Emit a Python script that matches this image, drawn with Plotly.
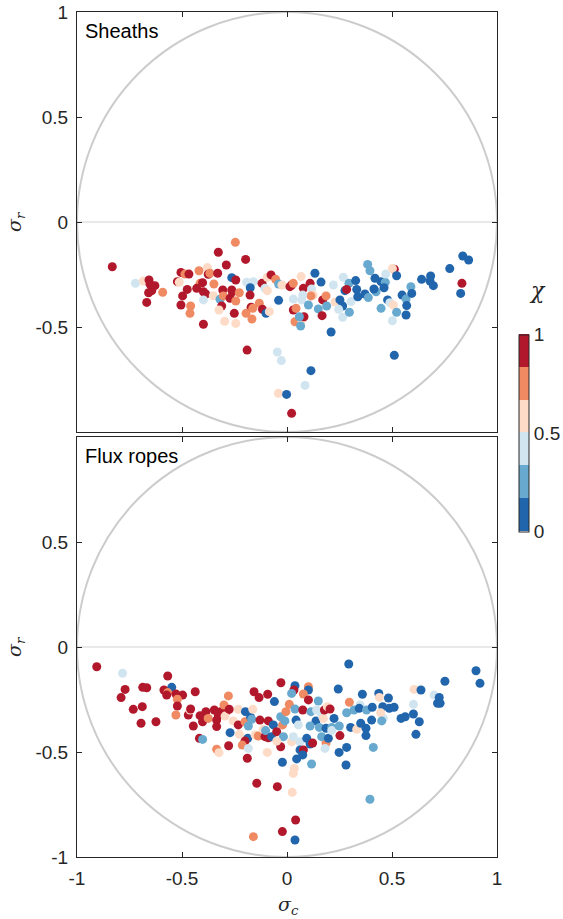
import plotly.graph_objects as go

# chi category values
R, O, P, L, M, B = 0.92, 0.75, 0.58, 0.42, 0.25, 0.08

sheath_pts = [
    (-0.832,-0.213,R),(-0.722,-0.292,L),(-0.684,-0.281,P),(-0.657,-0.276,R),(-0.652,-0.297,R),
    (-0.629,-0.303,R),(-0.644,-0.327,R),(-0.659,-0.337,R),(-0.668,-0.383,R),(-0.592,-0.335,O),
    (-0.505,-0.240,R),(-0.486,-0.248,O),(-0.467,-0.248,R),(-0.522,-0.284,R),(-0.513,-0.287,P),
    (-0.475,-0.321,R),(-0.497,-0.352,R),(-0.505,-0.395,R),(-0.459,-0.400,O),(-0.462,-0.435,O),
    (-0.419,-0.232,O),(-0.379,-0.217,P),(-0.375,-0.249,R),(-0.367,-0.244,O),(-0.330,-0.244,R),
    (-0.327,-0.144,R),(-0.246,-0.097,O),(-0.289,-0.205,R),(-0.197,-0.178,R),(-0.414,-0.292,O),
    (-0.402,-0.289,R),(-0.430,-0.316,R),(-0.398,-0.332,R),(-0.387,-0.343,R),(-0.398,-0.371,L),
    (-0.348,-0.295,O),(-0.351,-0.351,P),(-0.319,-0.368,M),(-0.306,-0.324,R),(-0.303,-0.352,O),
    (-0.311,-0.400,R),(-0.324,-0.419,P),(-0.263,-0.265,B),(-0.244,-0.276,R),(-0.263,-0.324,R),
    (-0.260,-0.332,R),(-0.271,-0.363,R),(-0.244,-0.376,O),(-0.227,-0.337,O),(-0.251,-0.435,R),
    (-0.297,-0.473,P),(-0.244,-0.483,P),(-0.398,-0.487,R),(-0.192,-0.287,L),(-0.160,-0.284,L),
    (-0.175,-0.313,B),(-0.176,-0.348,R),(-0.171,-0.406,R),(-0.163,-0.411,O),(-0.132,-0.387,O),
    (-0.195,-0.435,O),(-0.167,-0.462,O),(-0.117,-0.416,R),(-0.100,-0.435,B),(-0.084,-0.427,P),
    (-0.119,-0.292,R),(-0.094,-0.263,P),(-0.076,-0.252,R),(-0.105,-0.316,L),(-0.094,-0.327,P),
    (-0.054,-0.273,O),(-0.040,-0.295,M),(-0.024,-0.300,P),(-0.040,-0.373,B),(0.014,-0.308,R),
    (-0.190,-0.610,R),(-0.046,-0.619,L),(-0.027,-0.660,L),(-0.041,-0.816,P),(-0.002,-0.821,B),
    (0.022,-0.911,R),
    (0.022,-0.300,R),(0.030,-0.292,O),(0.067,-0.260,P),(0.078,-0.316,R),(0.110,-0.292,R),
    (0.117,-0.319,L),(0.125,-0.348,P),(0.114,-0.352,O),(0.075,-0.348,L),(0.030,-0.367,L),
    (0.070,-0.371,L),(0.030,-0.419,R),(0.043,-0.411,O),(0.038,-0.475,O),(0.070,-0.467,P),
    (0.065,-0.495,M),(0.081,-0.451,R),(0.059,-0.451,M),(0.102,-0.395,M),(0.133,-0.244,B),
    (0.162,-0.286,B),(0.149,-0.414,M),(0.170,-0.371,R),(0.186,-0.352,O),(0.189,-0.400,M),
    (0.167,-0.446,R),(0.221,-0.300,L),(0.229,-0.381,P),(0.252,-0.371,B),(0.268,-0.263,L),
    (0.265,-0.400,B),(0.246,-0.416,L),(0.265,-0.454,L),(0.295,-0.292,M),(0.276,-0.327,B),
    (0.284,-0.321,R),(0.305,-0.379,L),(0.297,-0.430,M),(0.327,-0.279,B),(0.332,-0.321,B),
    (0.337,-0.356,B),(0.371,-0.343,B),(0.387,-0.360,M),(0.384,-0.202,M),(0.395,-0.232,M),
    (0.419,-0.268,B),(0.424,-0.332,M),(0.414,-0.319,B),(0.448,-0.284,B),(0.468,-0.287,M),
    (0.462,-0.313,B),(0.470,-0.248,L),(0.448,-0.411,M),(0.479,-0.371,B),(0.490,-0.384,L),
    (0.511,-0.225,R),(0.502,-0.222,P),(0.522,-0.256,B),(0.506,-0.395,P),(0.502,-0.470,L),
    (0.522,-0.430,M),(0.548,-0.348,B),(0.567,-0.367,M),(0.590,-0.308,M),(0.594,-0.340,B),
    (0.570,-0.398,B),(0.567,-0.443,B),(0.210,-0.524,B),(0.511,-0.635,B),(0.641,-0.273,B),
    (0.684,-0.257,B),(0.681,-0.281,B),(0.697,-0.303,B),(0.775,-0.222,B),(0.837,-0.162,B),
    (0.865,-0.181,B),(0.833,-0.292,R),(0.827,-0.340,B),(0.114,-0.708,B),(0.086,-0.778,L),
]

rope_pts = [
    (-0.906,-0.094,R),(-0.783,-0.125,L),(-0.771,-0.202,R),(-0.790,-0.241,R),(-0.732,-0.297,R),
    (-0.689,-0.284,R),(-0.695,-0.363,R),(-0.624,-0.356,R),(-0.687,-0.192,R),(-0.668,-0.194,R),
    (-0.568,-0.138,R),(-0.549,-0.192,B),(-0.586,-0.205,R),(-0.568,-0.217,O),(-0.573,-0.229,R),
    (-0.529,-0.224,R),(-0.497,-0.229,R),(-0.522,-0.249,O),(-0.522,-0.281,R),(-0.529,-0.324,O),
    (-0.437,-0.213,R),(-0.470,-0.324,R),(-0.462,-0.300,P),(-0.459,-0.295,R),(-0.446,-0.376,R),
    (-0.414,-0.327,R),(-0.402,-0.356,R),(-0.386,-0.308,R),(-0.375,-0.340,O),(-0.346,-0.300,R),
    (-0.335,-0.348,R),(-0.327,-0.324,R),(-0.335,-0.379,R),(-0.316,-0.308,R),(-0.290,-0.308,R),
    (-0.279,-0.233,O),(-0.300,-0.276,O),(-0.295,-0.329,P),(-0.275,-0.297,R),(-0.232,-0.297,P),
    (-0.417,-0.435,R),(-0.402,-0.440,M),(-0.335,-0.487,O),(-0.324,-0.503,P),(-0.271,-0.408,B),
    (-0.278,-0.470,R),(-0.256,-0.352,P),(-0.227,-0.416,P),(-0.232,-0.371,R),(-0.198,-0.308,B),
    (-0.200,-0.356,O),(-0.184,-0.376,M),(-0.173,-0.335,B),(-0.163,-0.297,P),(-0.168,-0.344,M),
    (-0.157,-0.213,R),(-0.133,-0.241,R),(-0.187,-0.435,B),(-0.200,-0.448,R),(-0.213,-0.467,O),
    (-0.184,-0.483,L),(-0.189,-0.530,R),(-0.152,-0.419,P),(-0.137,-0.424,O),(-0.129,-0.348,R),
    (-0.113,-0.392,P),(-0.092,-0.225,R),(-0.060,-0.260,B),(-0.089,-0.352,R),(-0.065,-0.371,B),
    (-0.105,-0.427,R),(-0.089,-0.432,R),(-0.102,-0.398,M),(-0.073,-0.427,B),(-0.049,-0.403,R),
    (-0.030,-0.332,M),(-0.029,-0.170,R),(-0.021,-0.371,O),(-0.010,-0.352,M),(-0.017,-0.427,M),
    (-0.030,-0.475,R),(-0.049,-0.448,P),(-0.094,-0.502,P),(-0.022,-0.549,B),(-0.144,-0.649,R),
    (-0.046,-0.665,R),(-0.022,-0.879,R),(-0.160,-0.903,O),
    (0.038,-0.184,B),(0.033,-0.205,R),(0.022,-0.221,M),(0.102,-0.189,O),(0.102,-0.205,B),
    (0.078,-0.224,O),(0.102,-0.252,R),(0.011,-0.273,O),(-0.005,-0.308,O),(0.038,-0.295,M),
    (0.043,-0.348,B),(0.075,-0.300,R),(0.054,-0.371,L),(0.022,-0.451,P),(0.030,-0.427,L),
    (0.062,-0.451,L),(0.062,-0.490,B),(0.078,-0.490,R),(0.075,-0.514,B),(0.046,-0.533,B),
    (0.094,-0.435,B),(0.110,-0.462,B),(0.122,-0.457,R),(0.117,-0.557,M),(0.114,-0.308,M),
    (0.149,-0.257,M),(0.141,-0.300,L),(0.138,-0.352,B),(0.154,-0.383,M),(0.110,-0.376,M),
    (0.165,-0.324,L),(0.173,-0.340,P),(0.178,-0.300,R),(0.192,-0.284,P),(0.205,-0.295,R),
    (0.186,-0.387,B),(0.186,-0.457,O),(0.181,-0.483,L),(0.165,-0.427,M),(0.197,-0.435,B),
    (0.224,-0.340,B),(0.213,-0.383,M),(0.213,-0.398,L),(0.249,-0.376,M),(0.252,-0.422,R),
    (0.244,-0.200,B),(0.294,-0.081,B),(0.297,-0.263,O),(0.284,-0.313,M),(0.303,-0.383,B),
    (0.319,-0.300,M),(0.332,-0.392,P),(0.348,-0.276,L),(0.344,-0.292,B),(0.359,-0.225,B),
    (0.351,-0.363,B),(0.376,-0.387,B),(0.376,-0.422,B),(0.379,-0.300,M),(0.406,-0.287,B),
    (0.403,-0.348,B),(0.437,-0.221,B),(0.440,-0.240,P),(0.459,-0.340,L),(0.456,-0.284,B),
    (0.446,-0.313,P),(0.451,-0.352,M),(0.483,-0.243,B),(0.487,-0.292,B),(0.510,-0.287,B),
    (0.543,-0.340,B),(0.563,-0.332,B),(0.602,-0.319,B),(0.630,-0.356,B),(0.614,-0.416,B),
    (0.605,-0.202,P),(0.638,-0.205,B),(0.602,-0.273,L),(0.700,-0.229,L),(0.725,-0.240,B),
    (0.717,-0.268,B),(0.729,-0.268,B),(0.752,-0.163,B),(0.900,-0.113,B),(0.919,-0.173,B),
    (0.284,-0.478,B),(0.248,-0.502,B),(0.281,-0.562,B),(0.411,-0.478,M),(0.395,-0.725,M),
    (0.035,-0.578,P),(0.030,-0.602,P),(0.025,-0.692,P),(0.041,-0.824,R),(0.038,-0.919,B),
]

sheath_sc = [p[0] for p in sheath_pts]
sheath_sr = [p[1] for p in sheath_pts]
sheath_chi = [p[2] for p in sheath_pts]
rope_sc = [p[0] for p in rope_pts]
rope_sr = [p[1] for p in rope_pts]
rope_chi = [p[2] for p in rope_pts]

axis_ticks = [-1, -0.5, 0, 0.5, 1]
x_tick_text = ["-1", "-0.5", "0", "0.5", "1"]
top_y_text = ["", "-0.5", "0", "0.5", "1"]
bot_y_text = ["-1", "-0.5", "0", "0.5", ""]
cbar_ticks = [0, 0.5, 1]
cbar_text = ["0", "0.5", "1"]

colors = ['#2166ac', '#67a9cf', '#d1e5f0', '#fddbc7', '#ef8a62', '#b2182b']
cscale = []
for i, c in enumerate(colors):
    cscale.append([i / 6, c])
    cscale.append([(i + 1) / 6, c])

FONT = "Liberation Sans, Arial, sans-serif"
SERIF = "DejaVu Serif, serif"
AX = "#262626"
W, H = 563, 919
ML, MR, MT, MB = 77, 66, 12, 62
PW, PH = W - ML - MR, H - MT - MB


def px_to_dom(px, py):
    return (px - ML) / PW, (H - MB - py) / PH


fig = go.Figure()
fig.add_trace(go.Scatter(
    x=sheath_sc, y=sheath_sr, mode="markers", xaxis="x", yaxis="y",
    marker=dict(size=9, color=sheath_chi, colorscale=cscale, cmin=0, cmax=1,
                line=dict(width=0), showscale=False),
    showlegend=False, hoverinfo="skip"))
cbx, cby = px_to_dom(519, 433)
fig.add_trace(go.Scatter(
    x=rope_sc, y=rope_sr, mode="markers", xaxis="x2", yaxis="y2",
    marker=dict(size=9, color=rope_chi, colorscale=cscale, cmin=0, cmax=1,
                line=dict(width=0), showscale=True,
                colorbar=dict(x=cbx, xanchor="left", xpad=0, ypad=0,
                              y=cby, yanchor="middle", len=197, lenmode="pixels",
                              thickness=10, outlinewidth=1, outlinecolor=AX,
                              tickvals=cbar_ticks, ticktext=cbar_text,
                              ticks="", tickfont=dict(family=FONT, size=19, color=AX))),
    showlegend=False, hoverinfo="skip"))

top_dom = [(H - MB - 432) / PH, 1.0]
bot_dom = [0.0, 420 / PH]

common_ax = dict(range=[-1, 1], tickvals=axis_ticks, ticks="inside", ticklen=5,
                 tickcolor=AX, showline=True, linecolor=AX, linewidth=1,
                 mirror="ticks", showgrid=False, zeroline=False,
                 tickfont=dict(family=FONT, size=19, color=AX))

fig.update_layout(
    width=W, height=H,
    margin=dict(l=ML, r=MR, t=MT, b=MB, autoexpand=False),
    paper_bgcolor="white", plot_bgcolor="white",
    xaxis=dict(**common_ax, domain=[0, 1], anchor="y", showticklabels=False, matches="x2"),
    yaxis=dict(**common_ax, domain=top_dom, anchor="x", ticktext=top_y_text, ticklabelstandoff=4),
    xaxis2=dict(**common_ax, domain=[0, 1], anchor="y2", ticktext=x_tick_text, ticklabelstandoff=4),
    yaxis2=dict(**common_ax, domain=bot_dom, anchor="x2", ticktext=bot_y_text, ticklabelstandoff=4),
)

for xr, yr in (("x", "y"), ("x2", "y2")):
    fig.add_shape(type="circle", xref=xr, yref=yr, x0=-1, y0=-1, x1=1, y1=1,
                  line=dict(color="#cccccc", width=2), layer="below")
    fig.add_shape(type="line", xref=xr, yref=yr, x0=-1, y0=0, x1=1, y1=0,
                  line=dict(color="#d4d4d4", width=1.2), layer="below")

fig.add_annotation(text="Sheaths", x=-0.97, y=0.91, xref="x", yref="y",
                   xanchor="left", yanchor="middle", showarrow=False,
                   font=dict(family=FONT, size=20, color="black"))
fig.add_annotation(text="Flux ropes", x=-0.97, y=0.91, xref="x2", yref="y2",
                   xanchor="left", yanchor="middle", showarrow=False,
                   font=dict(family=FONT, size=20, color="black"))

for (px, py, txt, size, ang) in [
    (15, 222, "<i>σ</i><sub><i>r</i></sub>", 19, -90),
    (15, 647, "<i>σ</i><sub><i>r</i></sub>", 19, -90),
    (288, 905, "<i>σ</i><sub><i>c</i></sub>", 19, 0),
    (537, 290, "<i>χ</i>", 22, 0),
]:
    ax_, ay_ = px_to_dom(px, py)
    fig.add_annotation(text=txt, x=ax_, y=ay_, xref="paper", yref="paper",
                       xanchor="center", yanchor="middle", showarrow=False,
                       textangle=ang, font=dict(family=SERIF, size=size, color=AX))

fig.write_html("out.html", config={"displayModeBar": False})

# remove the browser's default 8px body margin so the figure sits at the page origin
with open("out.html", "r", encoding="utf-8") as f:
    html = f.read()
html = html.replace("<head>", "<head><style>html,body{margin:0;padding:0;}</style>", 1)
with open("out.html", "w", encoding="utf-8") as f:
    f.write(html)
